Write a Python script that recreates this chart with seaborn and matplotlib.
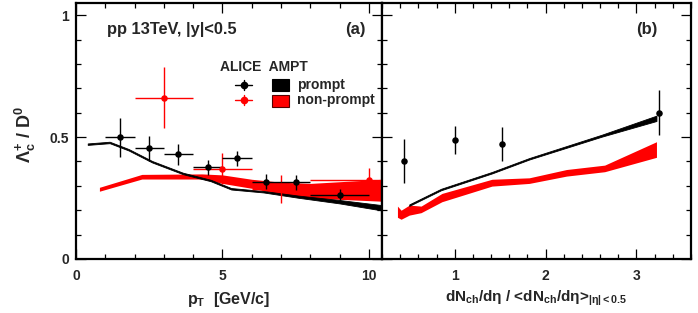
import numpy as np
import pandas as pd
import matplotlib
matplotlib.use("Agg")
import matplotlib.pyplot as plt
import seaborn as sns
from matplotlib.patches import Rectangle
from matplotlib.lines import Line2D
from matplotlib.ticker import MultipleLocator

# ---------------- data ----------------
# panel (a): Lambda_c/D0 vs pT
alice_pt = [1.5, 2.5, 3.5, 4.5, 5.5, 6.5, 7.5, 9.0]
alice_pt_err = [0.5, 0.5, 0.5, 0.5, 0.5, 0.5, 0.5, 1.0]
alice_ratio = [0.50, 0.454, 0.429, 0.376, 0.413, 0.317, 0.314, 0.262]
alice_ratio_err = [0.08, 0.05, 0.042, 0.03, 0.031, 0.03, 0.03, 0.025]

np_pt = [3.0, 5.0, 7.0, 10.0]
np_pt_err = [1.0, 1.0, 1.0, 2.0]
np_ratio = [0.661, 0.37, 0.287, 0.324]
np_ratio_err = [0.125, 0.063, 0.057, 0.05]

ampt_prompt_pt = [0.4, 1.15, 1.8, 2.6, 3.65, 4.6, 5.3, 6.4, 7.6, 9.0, 10.45]
ampt_prompt_lo = [0.468, 0.475, 0.445, 0.396, 0.348, 0.319, 0.285, 0.273, 0.251, 0.228, 0.199]
ampt_prompt_hi = [0.474, 0.481, 0.451, 0.402, 0.354, 0.325, 0.291, 0.279, 0.260, 0.242, 0.221]

ampt_np_pt = [0.8, 2.25, 4.3, 5.0, 6.0, 7.0, 8.0, 10.45]
ampt_np_lo = [0.278, 0.328, 0.328, 0.31, 0.29, 0.265, 0.25, 0.237]
ampt_np_hi = [0.294, 0.347, 0.349, 0.345, 0.327, 0.315, 0.31, 0.327]

# panel (b): Lambda_c/D0 vs multiplicity
alice_mult = [0.443, 1.0, 1.52, 3.25]
alice_mult_ratio = [0.403, 0.488, 0.47, 0.60]
alice_mult_err = [0.09, 0.057, 0.07, 0.093]

ampt_prompt_mult = [0.5, 0.85, 1.41, 1.82, 2.62, 3.22]
ampt_prompt_mult_lo = [0.218, 0.282, 0.351, 0.408, 0.502, 0.566]
ampt_prompt_mult_hi = [0.224, 0.288, 0.357, 0.414, 0.510, 0.588]

ampt_np_mult = [0.37, 0.41, 0.5, 0.63, 0.86, 1.41, 1.82, 2.23, 2.65, 3.22]
ampt_np_mult_lo = [0.171, 0.163, 0.18, 0.19, 0.235, 0.299, 0.31, 0.34, 0.358, 0.417]
ampt_np_mult_hi = [0.217, 0.20, 0.221, 0.217, 0.269, 0.327, 0.333, 0.367, 0.385, 0.481]

pt_ticks = ['0', '5', '10']
mult_ticks = ['1', '2', '3']
y_ticks = ['0', '0.5', '1']

# ---------------- style ----------------
sns.set_theme(style="ticks")
plt.rcParams['font.family'] = ['Liberation Sans', 'DejaVu Sans']
plt.rcParams['font.weight'] = 'bold'
plt.rcParams['mathtext.fontset'] = 'custom'
plt.rcParams['mathtext.rm'] = 'Liberation Sans:bold'
plt.rcParams['mathtext.it'] = 'Liberation Sans:bold'
plt.rcParams['mathtext.bf'] = 'Liberation Sans:bold'
plt.rcParams['mathtext.sf'] = 'Liberation Sans'
plt.rcParams['mathtext.default'] = 'rm'

W, H = 698, 313
fig = plt.figure(figsize=(W / 100, H / 100), dpi=100)

def fr(px_l, px_r, py_t, py_b):
    return [px_l / W, 1 - py_b / H, (px_r - px_l) / W, (py_b - py_t) / H]

axa = fig.add_axes(fr(76, 382, 3, 259))
axb = fig.add_axes(fr(382, 691, 3, 259))

RED = "#ff0000"

def style_axis(ax):
    for s in ax.spines.values():
        s.set_linewidth(1.6)
        s.set_color("black")
    ax.tick_params(which='both', direction='in', top=True, right=True,
                   color='black', width=0.9, labelsize=10)
    ax.tick_params(axis='x', pad=7)
    ax.tick_params(axis='y', pad=5)
    ax.tick_params(which='major', length=7)
    ax.tick_params(which='minor', length=3.5)
    ax.set_ylim(0, 1.05)
    ax.yaxis.set_minor_locator(MultipleLocator(0.1))
    ax.set_facecolor('white')

# ---- panel a ----
axa.fill_between(ampt_np_pt, ampt_np_lo, ampt_np_hi, color=RED, lw=0, zorder=2)
axa.fill_between(ampt_prompt_pt, ampt_prompt_lo, ampt_prompt_hi, color='black',
                 lw=0.6, edgecolor='black', zorder=3)
axa.errorbar(np_pt, np_ratio, xerr=np_pt_err, yerr=np_ratio_err, fmt='none',
             ecolor=RED, elinewidth=1.0, capsize=0, zorder=4)
axa.errorbar(alice_pt, alice_ratio, xerr=alice_pt_err, yerr=alice_ratio_err, fmt='none',
             ecolor='black', elinewidth=1.0, capsize=0, zorder=5)
dfa = pd.DataFrame({'pt': alice_pt, 'r': alice_ratio})
dfn = pd.DataFrame({'pt': np_pt, 'r': np_ratio})
sns.scatterplot(data=dfn, x='pt', y='r', ax=axa, color=RED, s=22, edgecolor=RED,
                linewidth=0, zorder=6, legend=False)
sns.scatterplot(data=dfa, x='pt', y='r', ax=axa, color='black', s=22, edgecolor='black',
                linewidth=0, zorder=7, legend=False)
style_axis(axa)
axa.set_xlim(0, 10.45)
axa.set_xticks([0, 5, 10])
axa.set_xticklabels(pt_ticks)
axa.xaxis.set_minor_locator(MultipleLocator(1))
axa.set_yticks([0, 0.5, 1.0])
axa.set_yticklabels(y_ticks)
axa.set_xlabel(r"p$_{\mathrm{T}}$  [GeV/c]", fontsize=11.5, fontweight='bold', labelpad=5)
axa.set_ylabel(r"$\mathsf{\Lambda_{c}^{+}}$ / D$^{0}$", fontsize=13, fontweight='bold')
axa.yaxis.set_label_coords(-0.125, 0.485)
axa.text(0.1, 0.895, "pp 13TeV, |y|<0.5", transform=axa.transAxes, fontsize=11.8,
         fontweight='bold', va='center', ha='left')
axa.text(0.945, 0.895, "(a)", transform=axa.transAxes, fontsize=12,
         fontweight='bold', va='center', ha='right')

# ---- panel b ----
axb.fill_between(ampt_np_mult, ampt_np_mult_lo, ampt_np_mult_hi, color=RED, lw=0, zorder=2)
axb.fill_between(ampt_prompt_mult, ampt_prompt_mult_lo, ampt_prompt_mult_hi, color='black',
                 lw=0.6, edgecolor='black', zorder=3)
axb.errorbar(alice_mult, alice_mult_ratio, yerr=alice_mult_err, fmt='none',
             ecolor='black', elinewidth=1.0, capsize=0, zorder=5)
dfb = pd.DataFrame({'m': alice_mult, 'r': alice_mult_ratio})
sns.scatterplot(data=dfb, x='m', y='r', ax=axb, color='black', s=22, edgecolor='black',
                linewidth=0, zorder=7, legend=False)
style_axis(axb)
axb.set_xlim(0.2, 3.6)
axb.set_xticks([1, 2, 3])
axb.set_xticklabels(mult_ticks)
axb.xaxis.set_minor_locator(MultipleLocator(0.2))
axb.set_yticks([0, 0.5, 1.0])
axb.set_yticklabels([])
axb.set_ylabel("")
axb.set_xlabel(r"dN$_{\mathrm{ch}}$/dη / <dN$_{\mathrm{ch}}$/dη>$_{\mathrm{|η|<0.5}}$",
               fontsize=11, fontweight='bold', labelpad=4)
axb.text(0.89, 0.895, "(b)", transform=axb.transAxes, fontsize=12,
         fontweight='bold', va='center', ha='right')

for ax in (axa, axb):
    for lab in ax.get_xticklabels() + ax.get_yticklabels():
        lab.set_fontweight('bold')

# ---- legend (manual, ROOT-like) ----
def fx(px):
    return px / W
def fy(py):
    return 1 - py / H

fig.text(fx(220), fy(67), "ALICE  AMPT", fontsize=10, fontweight='bold', va='center', ha='left')
for py, col in ((85, 'black'), (100, RED)):
    fig.add_artist(Line2D([fx(235), fx(252)], [fy(py), fy(py)], color=col, lw=1.0))
    fig.add_artist(Line2D([fx(243.5), fx(243.5)], [fy(py - 5), fy(py + 5)], color=col, lw=1.0))
    fig.add_artist(Line2D([fx(243.5)], [fy(py)], marker='o', ms=4.5, color=col, lw=0))
fig.add_artist(Rectangle((fx(272), fy(91)), (289 - 272) / W, 12 / H, transform=fig.transFigure,
                         facecolor='black', edgecolor='black', lw=0.8))
fig.add_artist(Rectangle((fx(272), fy(107)), (289 - 272) / W, 12 / H, transform=fig.transFigure,
                         facecolor=RED, edgecolor='#550000', lw=0.8))
fig.text(fx(297), fy(84.5), "prompt", fontsize=10, fontweight='bold', va='center', ha='left')
fig.text(fx(297), fy(100), "non-prompt", fontsize=10, fontweight='bold', va='center', ha='left')

fig.savefig("out.png", dpi=100, facecolor='white')
